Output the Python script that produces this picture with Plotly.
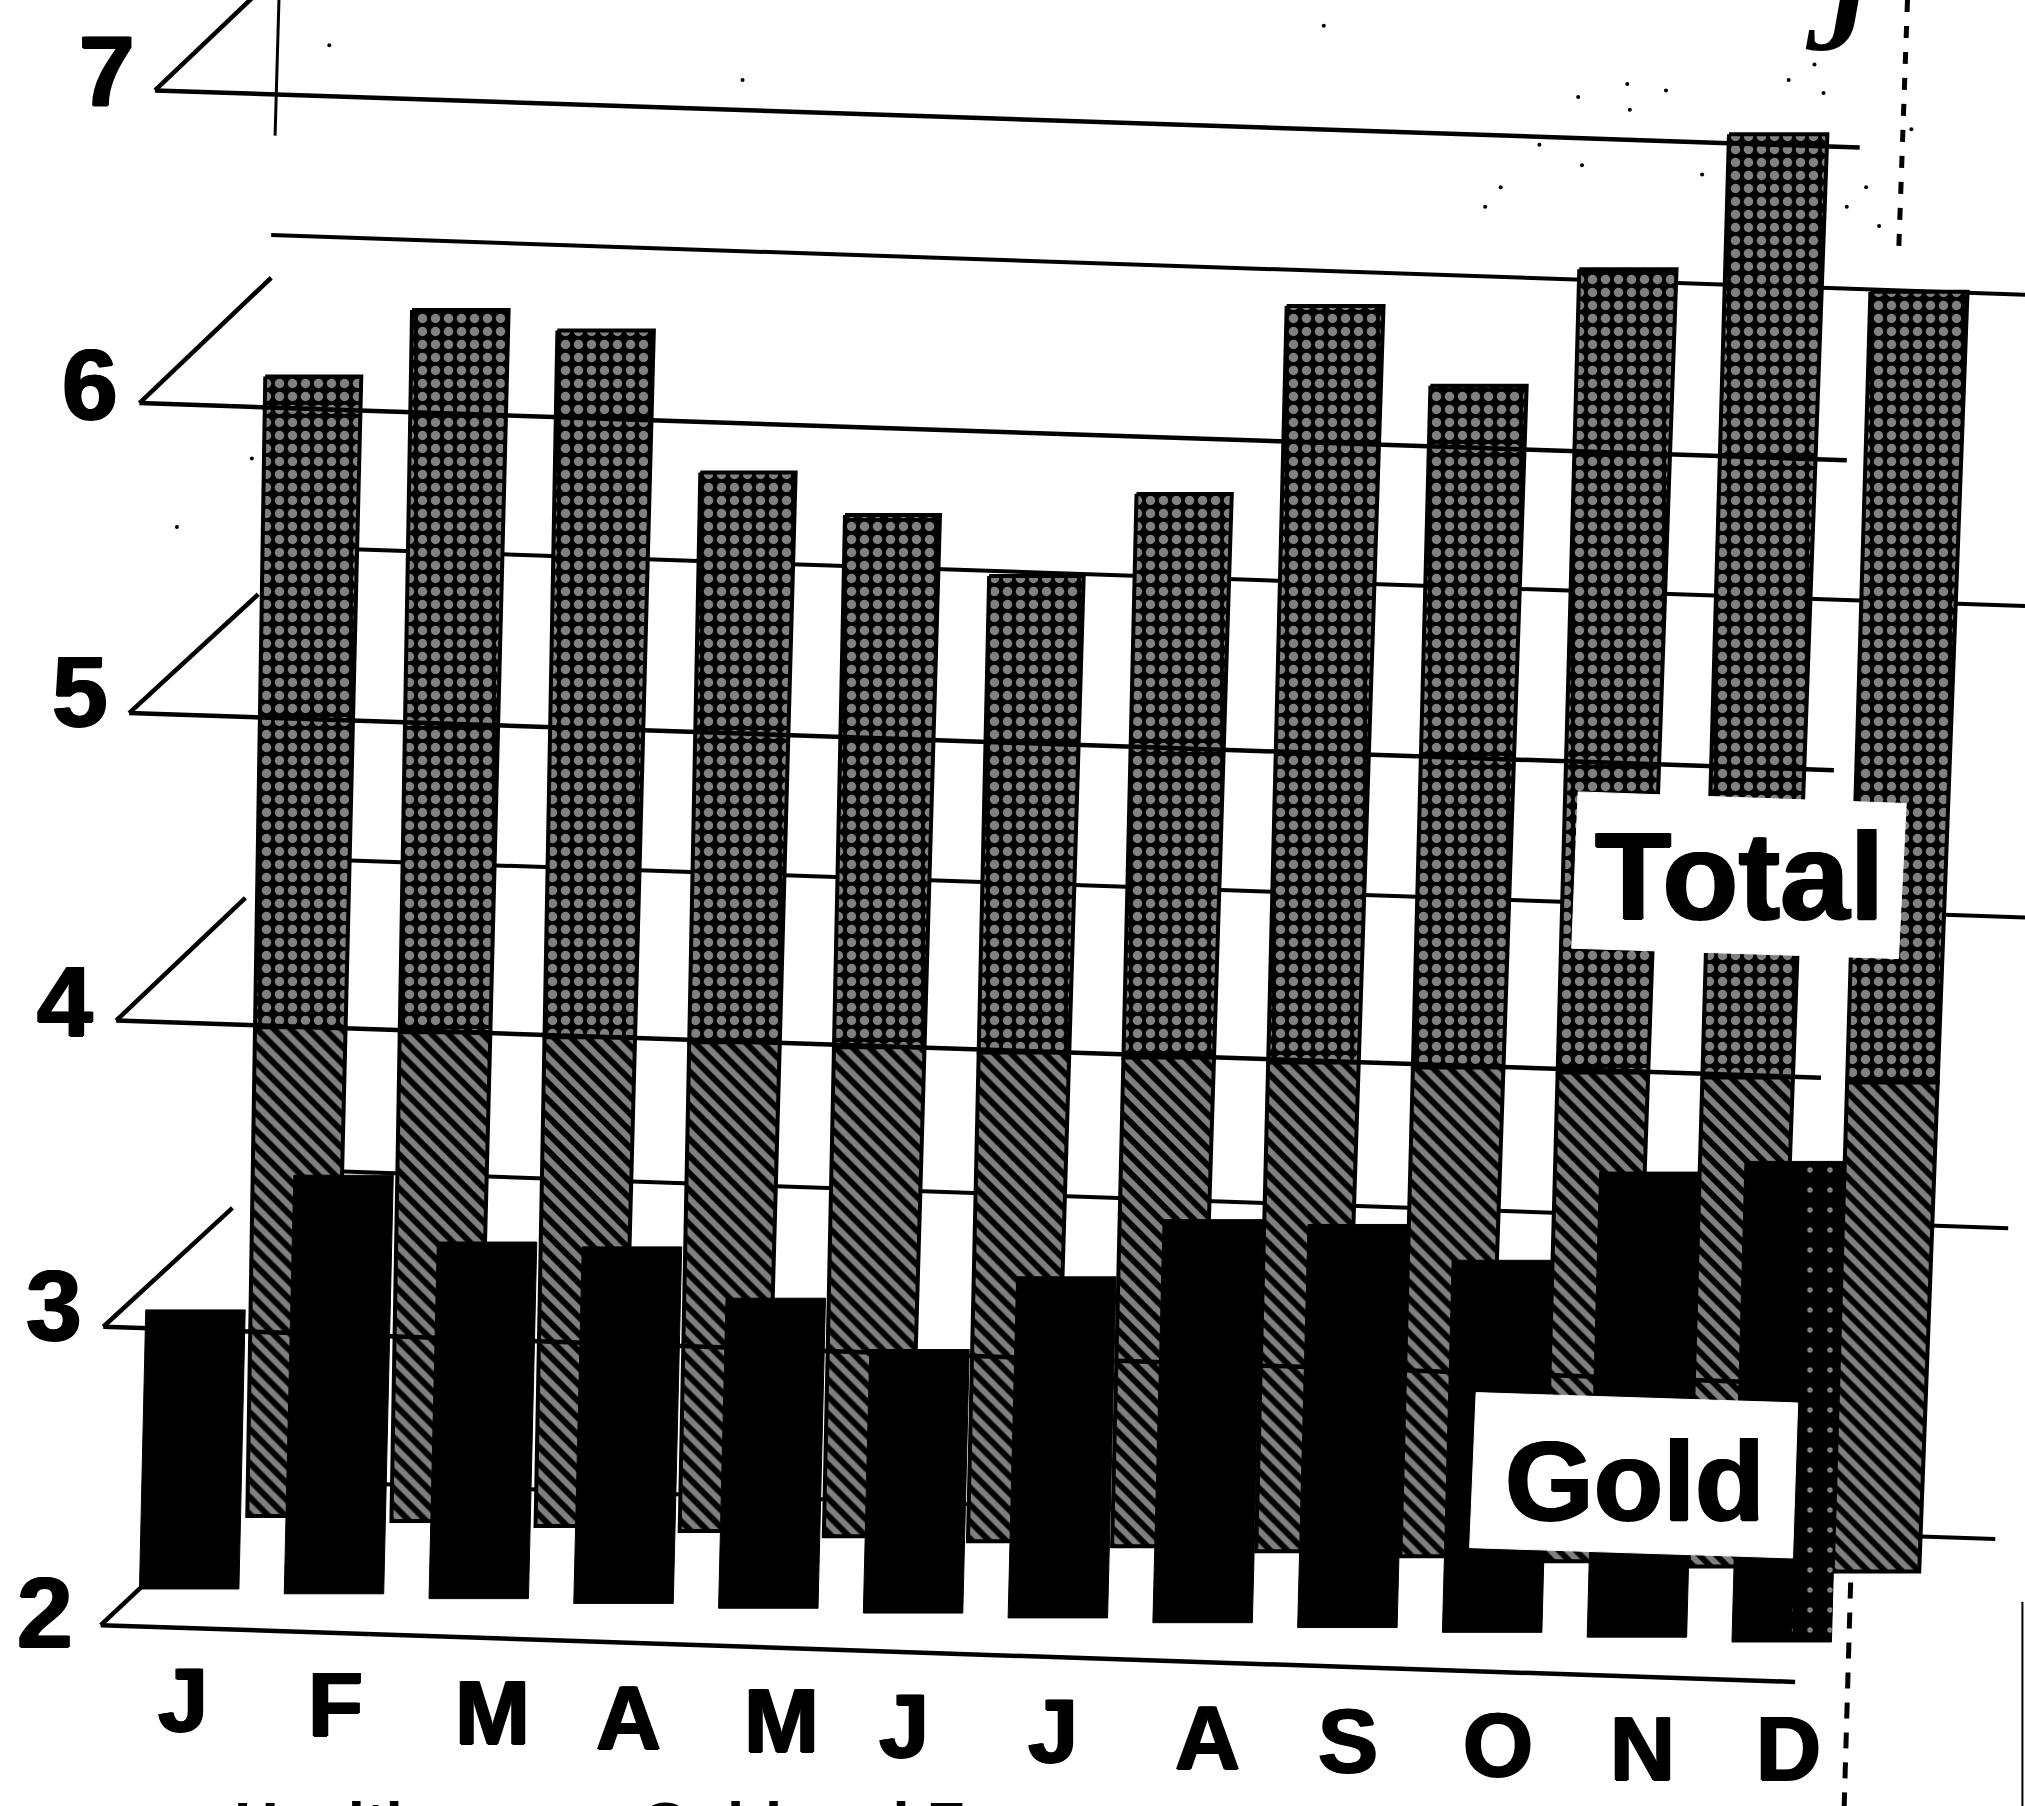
import plotly.graph_objects as go

months = ["J", "F", "M", "A", "M", "J", "J", "A", "S", "O", "N", "D"]
total_values = [5.55, 5.78, 5.73, 5.29, 5.17, 4.99, 5.27, 5.89, 5.65, 6.04, 6.49, 6.00]
gold_values = [2.90, 3.35, 3.15, 3.15, 3.00, 2.85, 3.10, 3.30, 3.30, 3.20, 3.50, 3.55]
y_ticks = [2, 3, 4, 5, 6, 7]

W, H = 2025, 1806
SW, SH = 1568, 1398  # drawing space of the skewed scan
XU, YU = 112.0, 238.0
VTOP = 7.286
SANS = "Liberation Sans"
BOLD = "1.2px 0 0 black, -1.2px 0 0 black, 0 1px 0 black"

def ax(sx, sy):
    return sx / XU, VTOP - sy / YU

def poly(points, **kw):
    pts = [ax(*p) for p in points] + [ax(*points[0])]
    return go.Scatter(x=[p[0] for p in pts], y=[p[1] for p in pts], mode="lines",
                      fill="toself", hoverinfo="skip", showlegend=False, **kw)

def line(a, b, width=5, dash=None):
    p, q = ax(*a), ax(*b)
    return go.Scatter(x=[p[0], q[0]], y=[p[1], q[1]], mode="lines", hoverinfo="skip",
                      showlegend=False, line=dict(color="black", width=width, dash=dash))

def total_pt(i, v, side):
    floor = 1.89
    cx = 225 + 111.6 * i + (4.8 + 0.3 * i) * (v - floor)
    w = 67 + 2.0 * (v - floor)
    return cx + side * w / 2, 183 + 3.9 * i - 241 * (v - 6)

def gold_pt(i, v, side):
    cx = 146.5 + 112.1 * i + (5.4 + 0.1 * i) * (v - 2)
    return cx + side * 38.5, 1230 + 3.73 * i - 240 * (v - 2)

fig = go.Figure()

# back wall grid
back_ends = {6: 1568, 5: 1568, 4: 1568, 3: 1555, 2: 1545}
for v in y_ticks[:-1]:
    y0 = 182 + 241 * (6 - v)
    x1 = back_ends[v]
    fig.add_trace(line((210, y0), (x1, y0 + 0.034 * (x1 - 210)), 4))

# total bars: dotted top, hatched lower part
SPLIT = 3.46
edge = dict(color="black", width=4)
for i, v in enumerate(total_values):
    fig.add_trace(poly([total_pt(i, v, -1), total_pt(i, v, 1), total_pt(i, SPLIT, 1), total_pt(i, SPLIT, -1)],
                       line=edge,
                       fillpattern=dict(shape=".", bgcolor="black", fgcolor="white", size=13, solidity=0.42)))
    fig.add_trace(poly([total_pt(i, SPLIT, -1), total_pt(i, SPLIT, 1), total_pt(i, 1.89, 1), total_pt(i, 1.89, -1)],
                       line=edge,
                       fillpattern=dict(shape="\\", bgcolor="black", fgcolor="white", size=12, solidity=0.5)))

# front grid and side diagonals
front_y = [1258, 1027, 790, 552, 312, 70]
front_x = [78, 80, 90, 100, 108, 120]
diag_end = [(172, 1170), (180, 935), (190, 695), (200, 460), (210, 215), (222, -27)]
for k, v in enumerate(y_ticks):
    sx, sy = front_x[k], front_y[k]
    ex = 1390 + 10 * (v - 2)
    fig.add_trace(line((sx, sy), (ex, sy + 0.0335 * (ex - sx)), 4.5))
    fig.add_trace(line((sx, sy), diag_end[k], 4.5))

# gold bars
for i, v in enumerate(gold_values):
    fig.add_trace(poly([gold_pt(i, v, -1), gold_pt(i, v, 1), gold_pt(i, 2, 1), gold_pt(i, 2, -1)],
                       line=dict(color="black", width=1), fillcolor="black"))
# worn ink on the last gold bar
i = len(gold_values) - 1
fig.add_trace(poly([gold_pt(i, gold_values[i], 0.2), gold_pt(i, gold_values[i], 1), gold_pt(i, 2, 1), gold_pt(i, 2, 0.2)],
                   line=dict(color="black", width=0),
                   fillpattern=dict(shape=".", bgcolor="black", fgcolor="white", size=20, solidity=0.06)))

# scan furniture
fig.add_trace(line((216, 0), (213, 105), 3))
fig.add_trace(line((1477, 0), (1470, 200), 5, "12px,14px"))
fig.add_trace(line((1433, 1225), (1428, 1398), 5, "16px,14px"))
fig.add_trace(line((1566, 1240), (1566, 1398), 2))

# scan specks
speck_x = [255, 195, 137, 575, 1025, 1162, 1192, 1225, 1262, 1290, 1318, 1385, 1405, 1412, 1430, 1445, 1455, 1480, 1150, 1260, 1222]
speck_y = [35, 355, 408, 62, 20, 145, 112, 128, 85, 70, 135, 62, 50, 72, 160, 145, 175, 100, 160, 65, 75]
sp = [ax(a, b) for a, b in zip(speck_x, speck_y)]
fig.add_trace(go.Scatter(x=[p[0] for p in sp], y=[p[1] for p in sp], mode="markers", hoverinfo="skip",
                         showlegend=False, marker=dict(color="black", size=4)))

# series label boxes
fig.add_trace(poly([(1222, 613), (1476, 622), (1470, 742), (1217, 734)], line=dict(color="white", width=1), fillcolor="white"))
fig.add_trace(poly([(1143, 1078), (1392, 1086), (1388, 1206), (1138, 1198)], line=dict(color="white", width=1), fillcolor="white"))

ann = []
def label(text, sx, sy, size, family=SANS, anchor="center", yanchor="middle", shadow=BOLD):
    x, y = ax(sx, sy)
    ann.append(dict(x=x, y=y, xref="x", yref="y", text=text, showarrow=False, xanchor=anchor,
                    yanchor=yanchor, font=dict(family=family, size=size, color="black", shadow=shadow)))

for v, (sx, sy) in zip(y_ticks, [(35, 1248), (42, 1010), (50, 775), (62, 535), (70, 297), (83, 55)]):
    label(f"<b>{v}</b>", sx, sy, 100)

for m, (sx, sy) in zip(months, [(142, 1316), (260, 1320), (381, 1326), (487, 1330), (605, 1332), (700, 1336),
                                 (815, 1340), (935, 1345), (1044, 1348), (1160, 1351), (1272, 1354), (1385, 1354)]):
    label(f"<b>{m}</b>", sx, sy, 90)

label("<b>Total</b>", 1347, 678, 125)
label("<b>Gold</b>", 1266, 1146, 114)
label("<b><i>J</i></b>", 1425, 62, 130, family="Liberation Serif", yanchor="bottom", shadow="none")
label("<b>Healthy</b>", 180, 1383, 62, anchor="left", yanchor="top", shadow="none")
label("<b>Gold and Forex</b>", 495, 1383, 62, anchor="left", yanchor="top", shadow="none")

fig.update_layout(
    width=W, height=H, autosize=False, margin=dict(l=0, r=0, t=0, b=0, pad=0),
    paper_bgcolor="white", plot_bgcolor="white", showlegend=False, annotations=ann,
    xaxis=dict(range=[0, SW / XU], visible=False, fixedrange=True),
    yaxis=dict(range=[VTOP - SH / YU, VTOP], visible=False, fixedrange=True),
)
fig.write_html("out.html", config={"displayModeBar": False},
               post_script="document.body.style.margin='0';")
